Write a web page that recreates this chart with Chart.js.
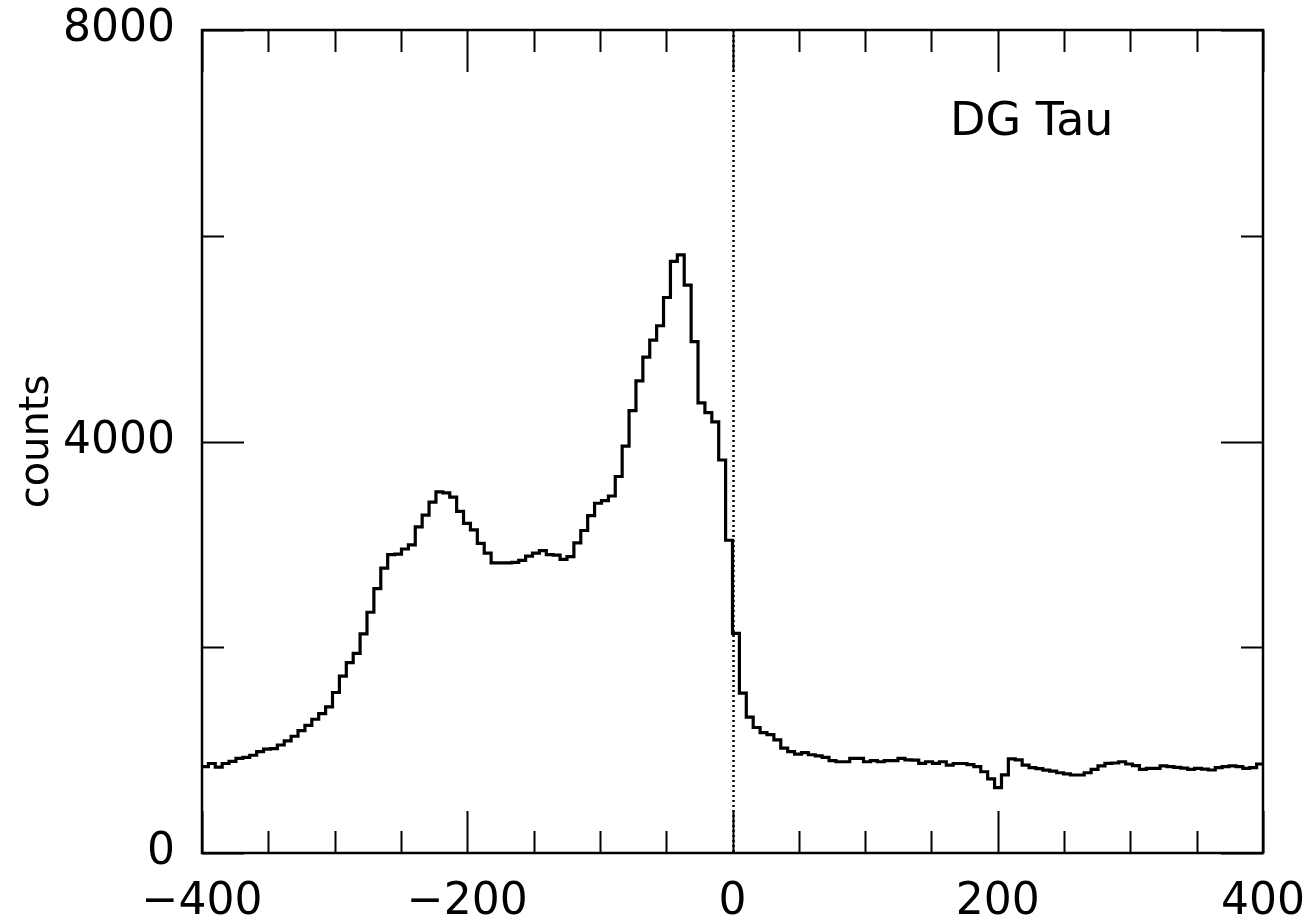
<!DOCTYPE html>
<html>
<head>
<meta charset="utf-8">
<title>DG Tau</title>
<script src="https://cdn.jsdelivr.net/npm/chart.js@4.4.1/dist/chart.umd.min.js"></script>
<style>
    html, body { margin: 0; padding: 0; background: #fff; }
    #wrap { width: 1309px; height: 921px; position: relative; }
</style>
</head>
<body>
<div id="wrap"><canvas id="profileChart"></canvas></div>
<script>
// Velocity channels (km/s): bin k covers [k * channelWidth, (k + 1) * channelWidth]
const channelWidth = 5.2;
const firstChannel = -77;

// Counts per channel, from -400 km/s to +400 km/s
const counts = [
    840, 870, 835, 870, 890, 920, 930, 950, 985, 1010,
    1015, 1050, 1090, 1135, 1190, 1240, 1300, 1355, 1420, 1560,
    1720, 1850, 1940, 2130, 2340, 2570, 2770, 2900, 2905, 2955,
    2995, 3170, 3285, 3410, 3510, 3500, 3460, 3320, 3205, 3140,
    3010, 2915, 2820, 2820, 2820, 2825, 2845, 2885, 2915, 2940,
    2900, 2895, 2855, 2880, 3015, 3135, 3280, 3400, 3425, 3470,
    3660, 3955, 4300, 4590, 4820, 4985, 5125, 5400, 5750, 5815,
    5520, 4970, 4375, 4280, 4190, 3820, 3040,
    2135, 1555, 1320, 1220, 1170, 1150, 1100, 1020, 985, 962,
    975, 955, 945, 930, 897, 887, 887, 920, 920, 887,
    897, 887, 897, 897, 920, 905, 903, 871, 887, 871,
    887, 855, 870, 870, 860, 840, 790, 720, 635, 760,
    915, 905, 855, 830, 820, 805, 795, 780, 770, 758,
    758, 780, 813, 846, 871, 875, 887, 865, 850, 813,
    823, 823, 846, 840, 833, 825, 813, 823, 815, 807,
    830, 839, 846, 840, 823, 830, 865
];

// Axis ticks
const xTickLabels = [-400, -200, 0, 200, 400];
const xMinorTicks = [-350, -300, -250, -150, -100, -50, 50, 100, 150, 250, 300, 350];
const yTickLabels = [0, 4000, 8000];
const yMinorTicks = [2000, 6000];

const fontFamily = '"DejaVu Sans", sans-serif';

// Histogram outline: one point at each channel's left edge, plus the closing edge
const points = counts.map(function (c, i) {
    return { x: (firstChannel + i) * channelWidth, y: c };
});
points.push({ x: (firstChannel + counts.length) * channelWidth, y: counts[counts.length - 1] });

function formatVelocity(v) {
    return v < 0 ? '\u2212' + Math.abs(v) : String(v);
}

// Frame, inward ticks on all four sides, zero-velocity line and object label
const framePlugin = {
    id: 'frame',
    afterDatasetsDraw(chart) {
        const ctx = chart.ctx;
        const area = chart.chartArea;
        const xs = chart.scales.x;
        const ys = chart.scales.y;
        const majorLen = 42;
        const minorLen = 22;

        ctx.save();
        ctx.strokeStyle = '#000';

        // dotted line at v = 0
        ctx.lineWidth = 2.5;
        ctx.setLineDash([2, 3]);
        const x0 = Math.round(xs.getPixelForValue(0)) + 0.5;
        ctx.beginPath();
        ctx.moveTo(x0, area.top);
        ctx.lineTo(x0, area.bottom);
        ctx.stroke();
        ctx.setLineDash([]);

        // box
        ctx.lineWidth = 2.5;
        ctx.strokeRect(area.left, area.top, area.right - area.left, area.bottom - area.top);

        // x ticks, bottom and top
        ctx.lineWidth = 2;
        ctx.beginPath();
        xTickLabels.concat(xMinorTicks).forEach(function (v) {
            const len = xTickLabels.includes(v) ? majorLen : minorLen;
            const px = Math.round(xs.getPixelForValue(v)) + 0.5;
            ctx.moveTo(px, area.bottom);
            ctx.lineTo(px, area.bottom - len);
            ctx.moveTo(px, area.top);
            ctx.lineTo(px, area.top + len);
        });
        // y ticks, left and right
        yTickLabels.concat(yMinorTicks).forEach(function (v) {
            const len = yTickLabels.includes(v) ? majorLen : minorLen;
            const py = Math.round(ys.getPixelForValue(v)) + 0.5;
            ctx.moveTo(area.left, py);
            ctx.lineTo(area.left + len, py);
            ctx.moveTo(area.right, py);
            ctx.lineTo(area.right - len, py);
        });
        ctx.stroke();

        // object name
        ctx.fillStyle = '#000';
        ctx.font = '46px ' + fontFamily;
        ctx.textAlign = 'left';
        ctx.textBaseline = 'alphabetic';
        ctx.fillText('DG Tau', xs.getPixelForValue(164), ys.getPixelForValue(6980));
        ctx.restore();
    }
};

const profileCtx = document.getElementById('profileChart').getContext('2d');
const profileChart = new Chart(profileCtx, {
    type: 'line',
    data: {
        datasets: [{
            data: points,
            stepped: 'before',
            borderColor: '#000',
            borderWidth: 3.2,
            pointRadius: 0,
            fill: false
        }]
    },
    options: {
        responsive: true,
        maintainAspectRatio: false,
        animation: false,
        layout: {
            padding: { left: 0, right: 46, top: 30, bottom: 0 }
        },
        plugins: {
            legend: { display: false },
            tooltip: { enabled: false }
        },
        scales: {
            x: {
                type: 'linear',
                min: -400,
                max: 400,
                grid: { display: false, drawTicks: false },
                border: { display: false },
                afterBuildTicks: function (scale) {
                    scale.ticks = xTickLabels.map(function (v) { return { value: v }; });
                },
                afterFit: function (scale) {
                    scale.height = 68;
                    scale.paddingLeft = 0;
                    scale.paddingRight = 0;
                },
                ticks: {
                    autoSkip: false,
                    maxRotation: 0,
                    padding: 23,
                    color: '#000',
                    font: { family: fontFamily, size: 44 },
                    callback: function (v) { return formatVelocity(v); }
                }
            },
            y: {
                min: 0,
                max: 8000,
                grid: { display: false, drawTicks: false },
                border: { display: false },
                afterBuildTicks: function (scale) {
                    scale.ticks = yTickLabels.map(function (v) { return { value: v }; });
                },
                afterFit: function (scale) {
                    scale.width = 202;
                    scale.paddingTop = 0;
                    scale.paddingBottom = 0;
                },
                ticks: {
                    padding: 27,
                    color: '#000',
                    font: { family: fontFamily, size: 44 },
                    callback: function (v) { return String(v); }
                },
                title: {
                    display: true,
                    text: 'counts',
                    color: '#000',
                    font: { family: fontFamily, size: 40 },
                    padding: { top: 14, bottom: 0 }
                }
            }
        }
    },
    plugins: [framePlugin]
});
</script>
</body>
</html>
